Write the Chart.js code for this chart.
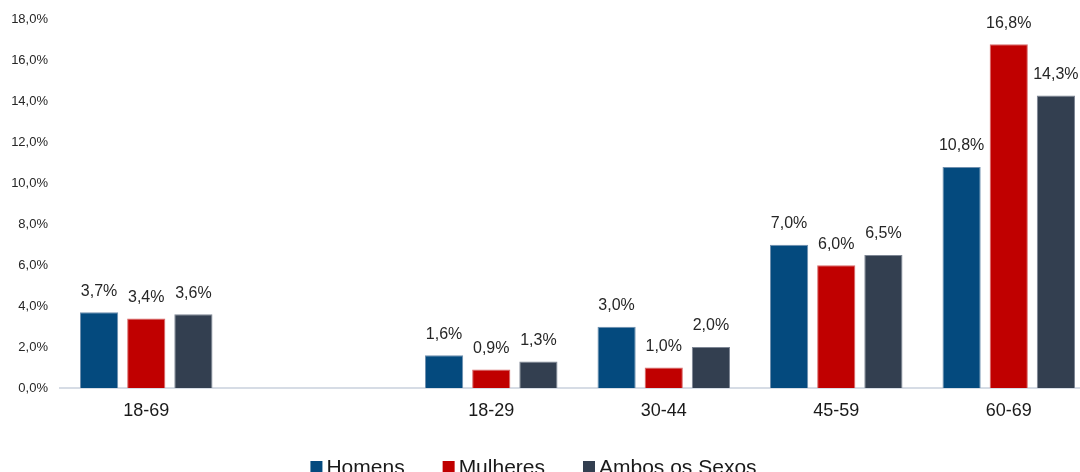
<!DOCTYPE html>
<html>
<head>
<meta charset="utf-8">
<script src="https://cdn.jsdelivr.net/npm/chart.js@4"></script>
<style>
  html, body { margin: 0; padding: 0; background: #fff; overflow: hidden; }
  #wrap { position: absolute; left: 0; top: 0; width: 1095px; height: 490px; }
</style>
</head>
<body>
<div id="wrap"><canvas id="c"></canvas></div>
<script>
const categories = ["18-69", "", "18-29", "30-44", "45-59", "60-69"];
const seriesNames = ["Homens", "Mulheres", "Ambos os Sexos"];
const homens   = [3.7, null, 1.6, 3.0, 7.0, 10.8];
const mulheres = [3.4, null, 0.9, 1.0, 6.0, 16.8];
const ambos    = [3.6, null, 1.3, 2.0, 6.5, 14.3];
const yTicks   = [0, 2, 4, 6, 8, 10, 12, 14, 16, 18];

const colors = ["#044A7E", "#C00000", "#333F50"];
const borders = ["#6F8FAE", "#D66A6A", "#7D8694"];
const FONT = "'Liberation Sans', Arial, sans-serif";
const fmt = v => v.toFixed(1).replace('.', ',') + '%';

const valueLabels = {
  id: 'valueLabels',
  afterDatasetsDraw(chart) {
    const ctx = chart.ctx;
    ctx.save();
    ctx.font = '16px ' + FONT;
    ctx.fillStyle = '#262626';
    ctx.textAlign = 'center';
    ctx.textBaseline = 'middle';
    chart.data.datasets.forEach((ds, i) => {
      const meta = chart.getDatasetMeta(i);
      meta.data.forEach((el, j) => {
        const v = ds.data[j];
        if (v === null || v === undefined) return;
        ctx.fillText(fmt(v), el.x, el.y - 21);
      });
    });
    ctx.restore();
  }
};

const customLegend = {
  id: 'customLegend',
  afterDraw(chart) {
    const ctx = chart.ctx;
    ctx.save();
    ctx.font = '21px ' + FONT;
    const box = 12, gapBox = 4, gapItem = 38;
    const widths = seriesNames.map(n => box + gapBox + ctx.measureText(n).width);
    const total = widths.reduce((a, b) => a + b, 0) + gapItem * (seriesNames.length - 1);
    let x = 533.5 - total / 2;
    const yMid = 467;
    ctx.textBaseline = 'middle';
    ctx.textAlign = 'left';
    seriesNames.forEach((n, i) => {
      ctx.fillStyle = colors[i];
      ctx.fillRect(x, yMid - box / 2, box, box);
      ctx.fillStyle = '#1a1a1a';
      ctx.fillText(n, x + box + gapBox, yMid + 1);
      x += widths[i] + gapItem;
    });
    ctx.restore();
  }
};

const datasets = [homens, mulheres, ambos].map((d, i) => ({
  label: seriesNames[i],
  data: d,
  backgroundColor: colors[i],
  borderColor: borders[i],
  borderWidth: 1,
  categoryPercentage: 0.82,
  barPercentage: 0.81
}));

new Chart(document.getElementById('c'), {
  type: 'bar',
  data: { labels: categories, datasets },
  options: {
    responsive: true,
    maintainAspectRatio: false,
    animation: false,
    devicePixelRatio: 1,
    layout: { padding: { top: 19, right: 0, bottom: 62, left: 0 } },
    plugins: { legend: { display: false }, tooltip: { enabled: false } },
    scales: {
      x: {
        grid: { display: false, drawTicks: false },
        border: { display: true, color: '#D6DCE5', width: 2 },
        ticks: { font: { family: FONT, size: 18 }, color: '#1a1a1a', padding: 12, maxRotation: 0 },
        afterFit: s => { s.height = 40; }
      },
      y: {
        min: 0, max: 18,
        grid: { display: false, drawTicks: false },
        border: { display: false },
        afterBuildTicks: s => { s.ticks = yTicks.map(v => ({ value: v })); },
        ticks: { font: { family: FONT, size: 13 }, color: '#262626', padding: 12, callback: v => fmt(v) },
        afterFit: s => { s.width = 60; }
      }
    }
  },
  plugins: [valueLabels, customLegend]
});
</script>
</body>
</html>
